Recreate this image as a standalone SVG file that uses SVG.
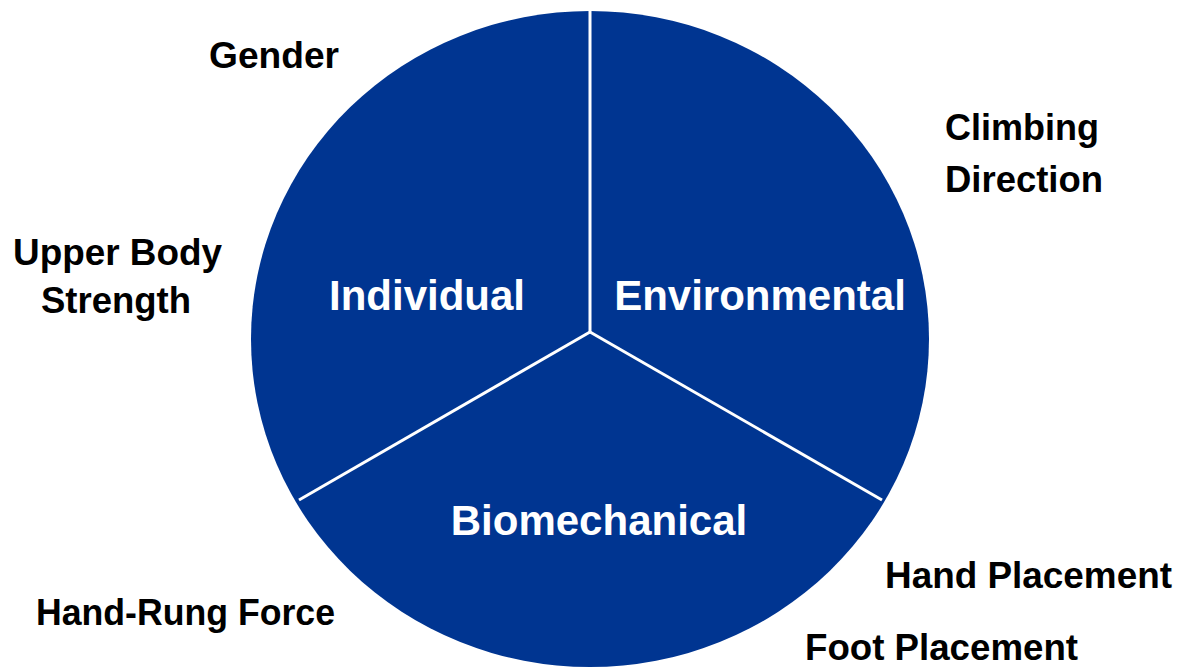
<svg xmlns="http://www.w3.org/2000/svg" width="1179" height="669" viewBox="0 0 1179 669">
<style>
.lbl{font-family:"Liberation Sans",Arial,sans-serif;font-weight:bold;font-size:37px;fill:#000}
.seg{font-family:"Liberation Sans",Arial,sans-serif;font-weight:bold;font-size:42px;fill:#fff;text-anchor:middle}
.div{stroke:#fff;stroke-width:3;fill:none}
</style>
<rect width="1179" height="669" fill="#fff"/>
<g id="pie">
<ellipse cx="590" cy="339" rx="339" ry="328" fill="#003591"/>
</g>
<g id="connectors">
<line class="div" x1="590" y1="332" x2="590" y2="0"/>
<line class="div" x1="590" y1="332" x2="299" y2="500"/>
<line class="div" x1="590" y1="332" x2="882" y2="500"/>
</g>
<g id="individual"><text class="seg" x="427" y="310">Individual</text></g>
<g id="environmental"><text class="seg" x="760" y="310">Environmental</text></g>
<g id="biomechanical"><text class="seg" x="599" y="535">Biomechanical</text></g>
<g id="gender"><text class="lbl" x="209" y="68" textLength="130" lengthAdjust="spacingAndGlyphs">Gender</text></g>
<g id="climbing"><text class="lbl" x="945" y="140" textLength="154" lengthAdjust="spacingAndGlyphs">Climbing</text><text class="lbl" x="945" y="192" textLength="158" lengthAdjust="spacingAndGlyphs">Direction</text></g>
<g id="upperbody"><text class="lbl" x="13" y="265" textLength="209" lengthAdjust="spacingAndGlyphs">Upper Body</text><text class="lbl" x="41" y="313" textLength="150" lengthAdjust="spacingAndGlyphs">Strength</text></g>
<g id="handrung"><text class="lbl" x="36" y="625" textLength="299" lengthAdjust="spacingAndGlyphs">Hand-Rung Force</text></g>
<g id="handplacement"><text class="lbl" x="885" y="588" textLength="287" lengthAdjust="spacingAndGlyphs">Hand Placement</text></g>
<g id="footplacement"><text class="lbl" x="805" y="660" textLength="273" lengthAdjust="spacingAndGlyphs">Foot Placement</text></g>
</svg>
